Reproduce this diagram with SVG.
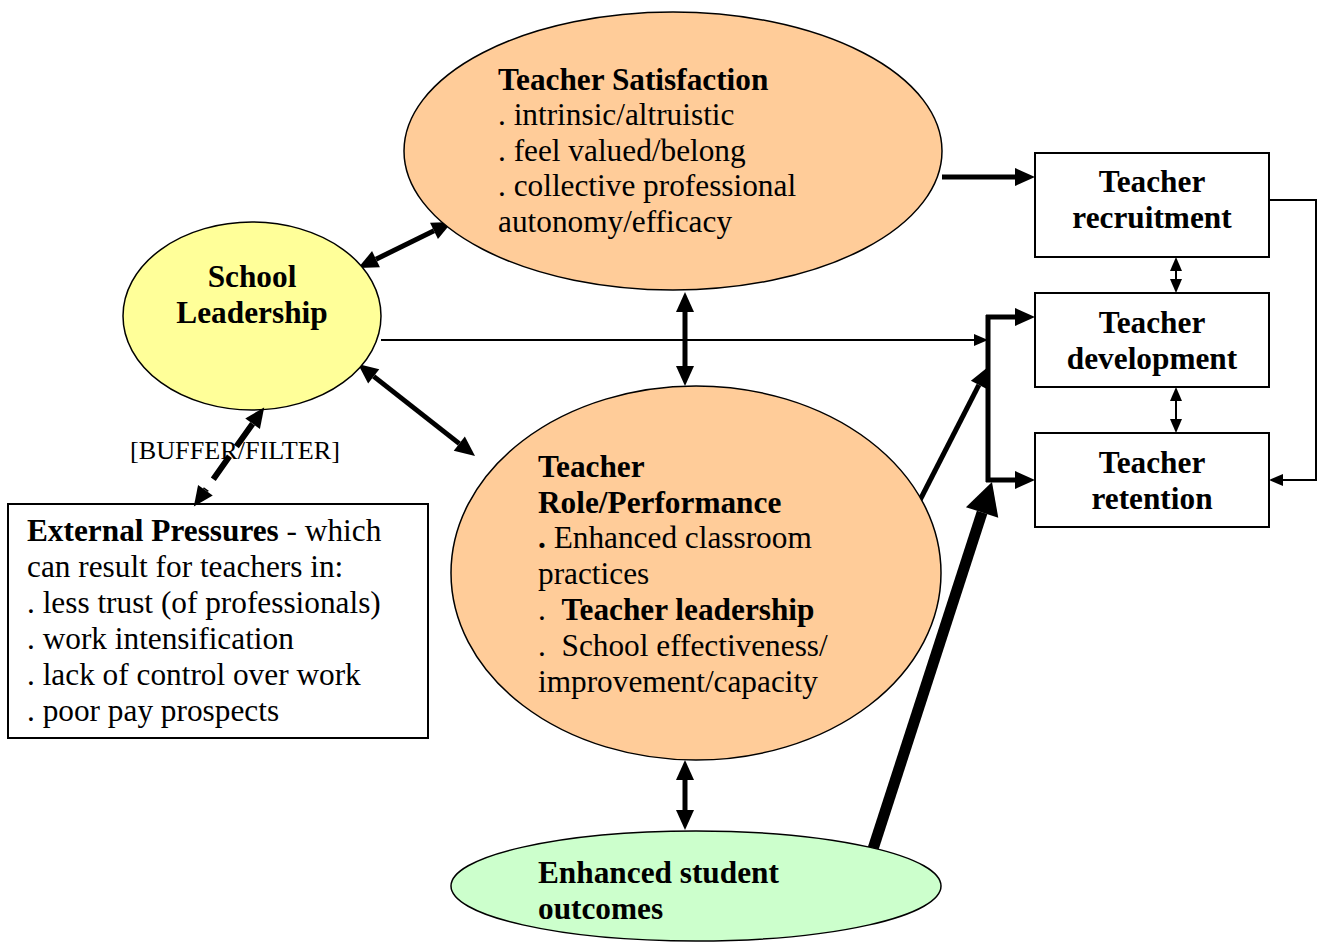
<svg xmlns="http://www.w3.org/2000/svg" width="1324" height="942" viewBox="0 0 1324 942">
<style>
text{font-family:"Liberation Serif","Times New Roman",serif;font-size:31.3px;fill:#000}
.b{font-weight:bold}
.c{text-anchor:middle}
.ell{stroke:#000;stroke-width:1.5}
.box{fill:#fff;stroke:#000;stroke-width:2}
.thick{stroke:#000;stroke-width:5;fill:none}
.thin{stroke:#000;stroke-width:2;fill:none}
</style>
<defs>
<marker id="ah" markerUnits="userSpaceOnUse" markerWidth="20" markerHeight="18" refX="0" refY="9" orient="auto-start-reverse" overflow="visible"><path d="M0,0 L20,9 L0,18 z" fill="#000"/></marker>
<marker id="as" markerUnits="userSpaceOnUse" markerWidth="14" markerHeight="12" refX="0" refY="6" orient="auto-start-reverse" overflow="visible"><path d="M0,0 L14,6 L0,12 z" fill="#000"/></marker>
<marker id="ab" markerUnits="userSpaceOnUse" markerWidth="32" markerHeight="34" refX="0" refY="17" orient="auto" overflow="visible"><path d="M0,0 L32,17 L0,34 z" fill="#000"/></marker>
</defs>

<g id="connectors">
<line class="thick" x1="942" y1="177" x2="1015" y2="177" marker-end="url(#ah)"/>
<path class="thin" d="M1269,200 H1316 V480 H1283" marker-end="url(#as)"/>
<line class="thin" x1="1176" y1="271" x2="1176" y2="279" marker-start="url(#as)" marker-end="url(#as)"/>
<line class="thin" x1="1176" y1="401" x2="1176" y2="419" marker-start="url(#as)" marker-end="url(#as)"/>
<path class="thick" d="M988,315 V482"/>
<line class="thick" x1="986" y1="317" x2="1015" y2="317" marker-end="url(#ah)"/>
<line class="thick" x1="986" y1="480" x2="1015" y2="480" marker-end="url(#ah)"/>
<line class="thin" x1="381" y1="340" x2="974" y2="340" marker-end="url(#as)"/>
<line class="thick" x1="919" y1="502" x2="978.9" y2="384.8" marker-end="url(#ah)"/>
<line stroke="#000" stroke-width="11" x1="872" y1="852" x2="982.1" y2="512.4" marker-end="url(#ab)"/>
<line class="thick" x1="685" y1="312" x2="685" y2="366" marker-start="url(#ah)" marker-end="url(#ah)"/>
<line class="thick" x1="685" y1="780" x2="685" y2="810" marker-start="url(#ah)" marker-end="url(#ah)"/>
<line class="thick" x1="376" y1="259.2" x2="434" y2="230.8" marker-start="url(#ah)" marker-end="url(#ah)"/>
<line class="thick" x1="373.7" y1="376.4" x2="459.3" y2="443.6" marker-start="url(#ah)" marker-end="url(#ah)"/>
</g>

<g id="teacher-satisfaction">
<ellipse class="ell" cx="673" cy="151" rx="269" ry="139" fill="#FFCC99"/>
<text x="498" y="90" class="b">Teacher Satisfaction</text>
<text x="498" y="125">. intrinsic/altruistic</text>
<text x="498" y="161">. feel valued/belong</text>
<text x="498" y="196">. collective professional</text>
<text x="498" y="232">autonomy/efficacy</text>
</g>

<g id="school-leadership">
<ellipse class="ell" cx="252" cy="316" rx="129" ry="94" fill="#FFFF99"/>
<text x="252" y="287" class="b c">School</text>
<text x="252" y="323" class="b c">Leadership</text>
</g>

<g id="teacher-role">
<ellipse class="ell" cx="696" cy="573" rx="245" ry="187" fill="#FFCC99"/>
<text x="538" y="477" class="b">Teacher</text>
<text x="538" y="513" class="b">Role/Performance</text>
<text x="538" y="548"><tspan class="b">.</tspan>  Enhanced classroom</text>
<text x="538" y="584">practices</text>
<text x="538" y="620" xml:space="preserve">.  <tspan class="b">Teacher leadership</tspan></text>
<text x="538" y="656" xml:space="preserve">.  School effectiveness/</text>
<text x="538" y="692">improvement/capacity</text>
</g>

<g id="student-outcomes">
<ellipse class="ell" cx="696" cy="886" rx="245" ry="55" fill="#CCFFCC"/>
<text x="538" y="883" class="b">Enhanced student</text>
<text x="538" y="919" class="b">outcomes</text>
</g>

<g id="teacher-recruitment">
<rect class="box" x="1035" y="153" width="234" height="104"/>
<text x="1152" y="192" class="b c">Teacher</text>
<text x="1152" y="228" class="b c">recruitment</text>
</g>

<g id="teacher-development">
<rect class="box" x="1035" y="293" width="234" height="94"/>
<text x="1152" y="333" class="b c">Teacher</text>
<text x="1152" y="369" class="b c">development</text>
</g>

<g id="teacher-retention">
<rect class="box" x="1035" y="433" width="234" height="94"/>
<text x="1152" y="473" class="b c">Teacher</text>
<text x="1152" y="509" class="b c">retention</text>
</g>

<g id="external-pressures">
<rect class="box" x="8" y="504" width="420" height="234"/>
<text x="27" y="541"><tspan class="b">External Pressures</tspan> - which</text>
<text x="27" y="577">can result for teachers in:</text>
<text x="27" y="613">. less trust (of professionals)</text>
<text x="27" y="649">. work intensification</text>
<text x="27" y="685">. lack of control over work</text>
<text x="27" y="721">. poor pay prospects</text>
</g>

<g id="buffer-filter">
<text x="130" y="459" style="font-size:26.2px">[BUFFER/FILTER]</text>
<line stroke="#000" stroke-width="6" stroke-dasharray="28 12" x1="252.6" y1="423.7" x2="205.4" y2="490.3" marker-start="url(#ah)" marker-end="url(#ah)"/>
</g>
</svg>
